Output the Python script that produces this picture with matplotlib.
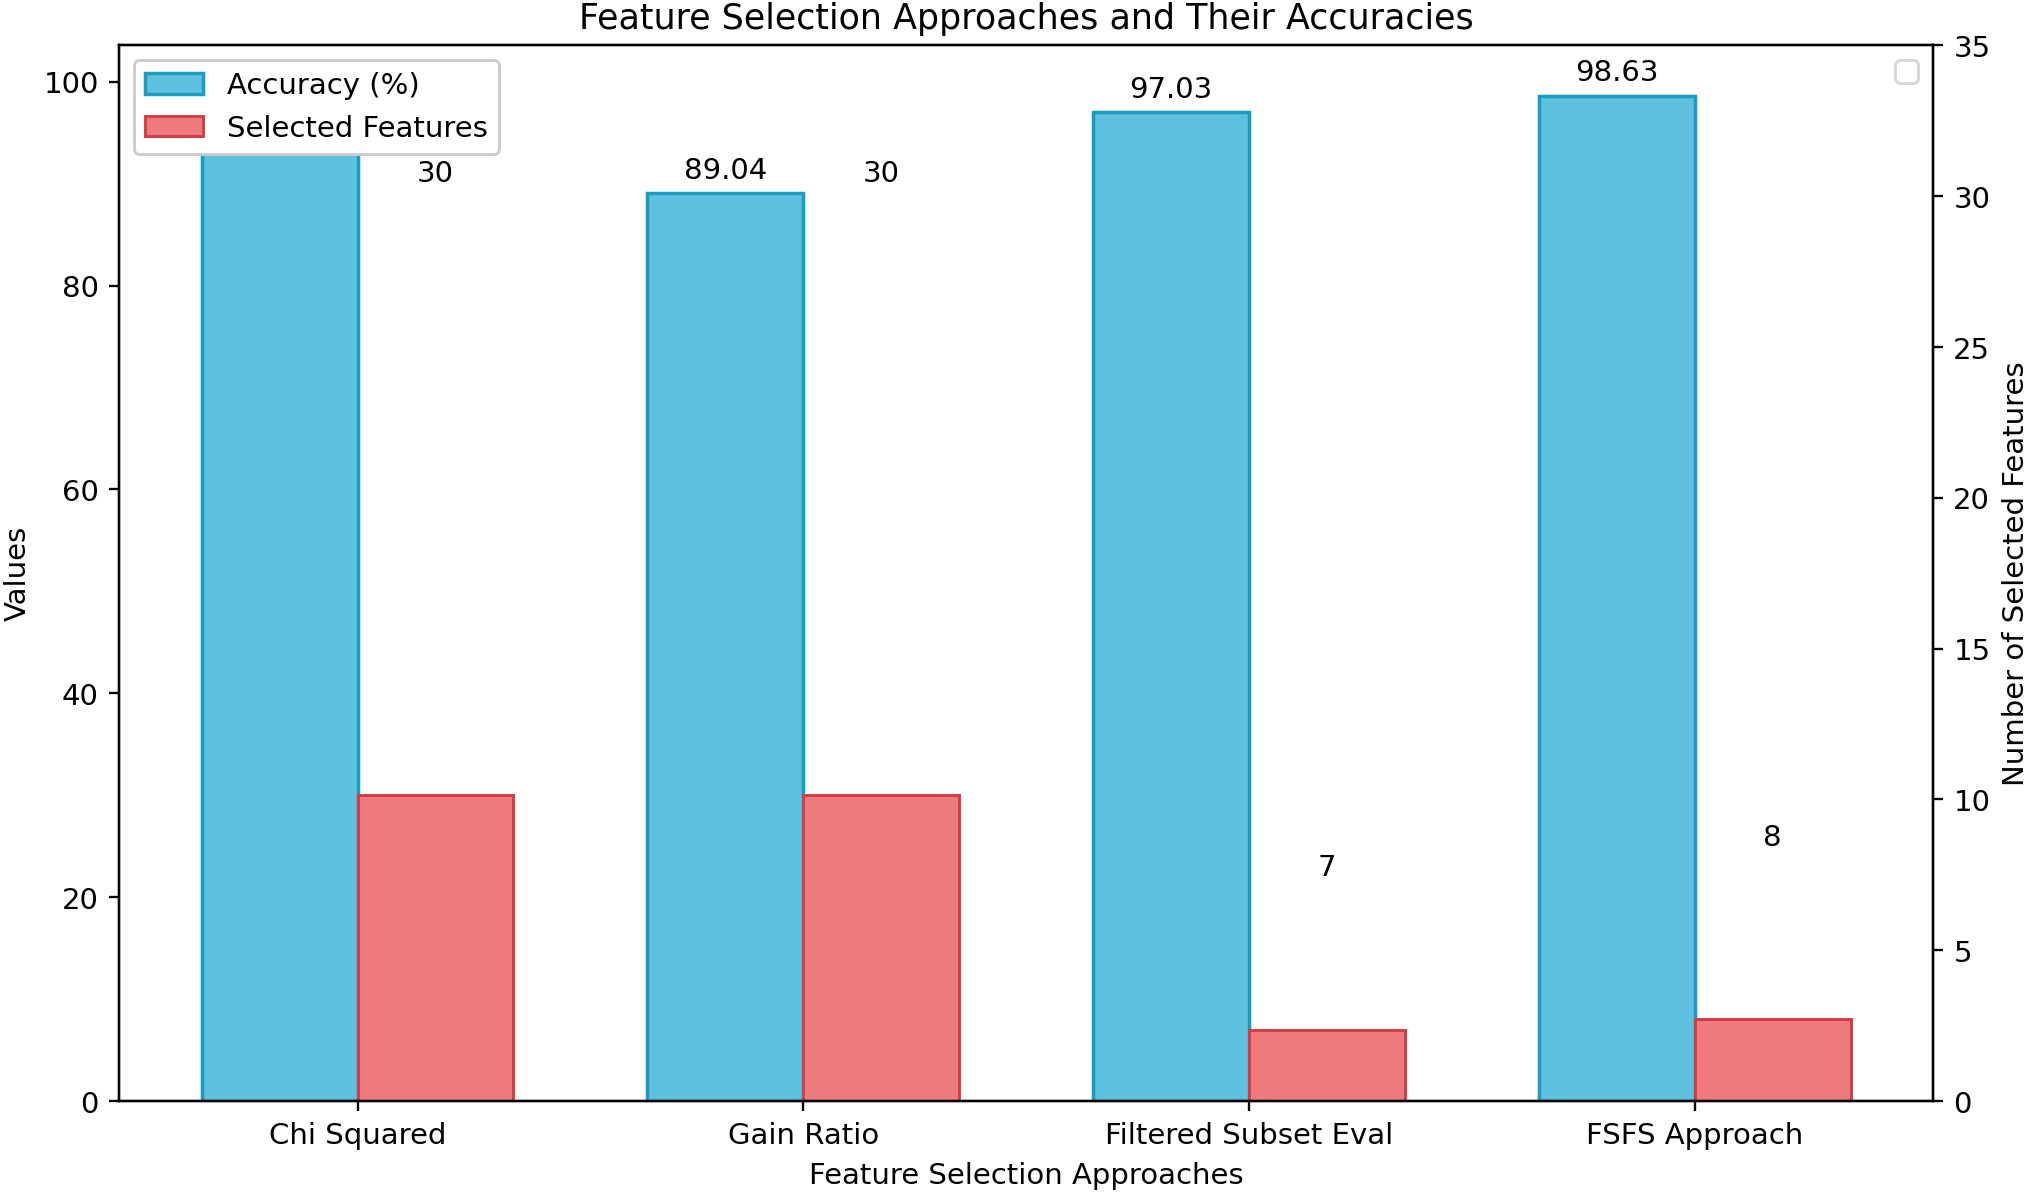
import matplotlib
matplotlib.use("Agg")
import matplotlib.pyplot as plt
import numpy as np

approaches = ["Chi Squared", "Gain Ratio", "Filtered Subset Eval", "FSFS Approach"]
accuracy = [93.70, 89.04, 97.03, 98.63]
selected = [30, 30, 7, 8]

x = np.arange(len(approaches))
width = 0.35

fig, ax = plt.subplots(figsize=(9.67, 5.70), dpi=209.4)
fig.subplots_adjust(left=0.0588, right=0.9546, top=0.9615, bottom=0.0771)

bars1 = ax.bar(x - width / 2, accuracy, width, label="Accuracy (%)",
               color="#5dc1df", edgecolor="#1a9cc0", linewidth=1.2)
# selected features drawn on the left axis as well
bars2 = ax.bar(x + width / 2, selected, width, label="Selected Features",
               color="#ed7b7d", edgecolor="#d63a44", linewidth=1.0)

ax.set_xlabel("Feature Selection Approaches")
ax.set_ylabel("Values")
ax.set_title("Feature Selection Approaches and Their Accuracies")
ax.set_xticks(x)
ax.set_xticklabels(approaches)

ax2 = ax.twinx()
ax2.set_ylabel("Number of Selected Features")
ax2.set_ylim(0, 35)

for b, v in zip(bars1, accuracy):
    ax.annotate(f"{v:.2f}", xy=(b.get_x() + b.get_width() / 2, v),
                xytext=(0, 3), textcoords="offset points",
                ha="center", va="bottom")

for b, v in zip(bars2, selected):
    ax2.annotate(f"{v}", xy=(b.get_x() + b.get_width() / 2, v),
                 xytext=(0, 3), textcoords="offset points",
                 ha="center", va="bottom")

ax.legend(loc="upper left", framealpha=1.0)
ax2.legend(loc="upper right")

plt.savefig("out.png", dpi=209.4)
plt.close()
